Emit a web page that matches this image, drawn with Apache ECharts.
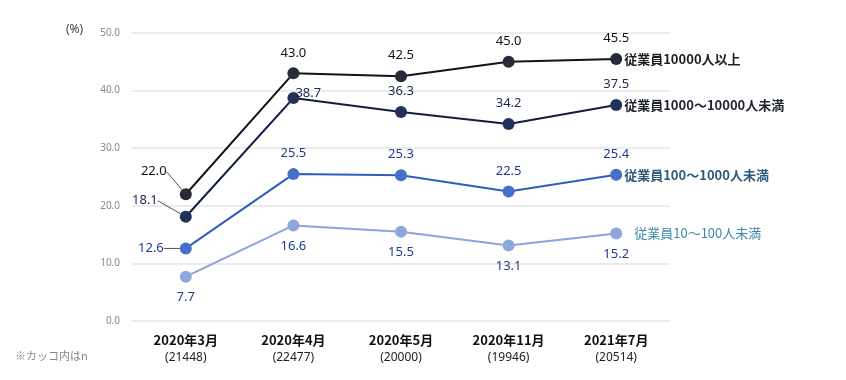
<!DOCTYPE html>
<html><head><meta charset="utf-8">
<script src="https://cdn.jsdelivr.net/npm/echarts@6/dist/echarts.min.js"></script>
<style>html,body{margin:0;padding:0;background:#fff}#c{width:846px;height:380px}</style>
</head><body><div id="c"></div>
<script>
const categories = ['2020年3月', '2020年4月', '2020年5月', '2020年11月', '2021年7月'];
const sampleSizes = ['21448', '22477', '20000', '19946', '20514'];
const seriesNames = ['従業員10000人以上', '従業員1000〜10000人未満', '従業員100〜1000人未満', '従業員10〜100人未満'];
const s10000 = [22.0, 43.0, 42.5, 45.0, 45.5];
const s1000 = [18.1, 38.7, 36.3, 34.2, 37.5];
const s100 = [12.6, 25.5, 25.3, 22.5, 25.4];
const s10 = [7.7, 16.6, 15.5, 13.1, 15.2];
const yMin = 0, yMax = 50, yStep = 10;

const FONT = '"Noto Sans", "Noto Sans CJK JP", sans-serif';
const CJK = '"Noto Sans CJK JP", "Noto Sans", sans-serif';

// per-point label placement (style only)
const labelCfg = [
  [ {position:'top', move:[-32,-2], line:true}, {position:'top'}, {position:'top'}, {position:'top'}, {position:'top'} ],
  [ {position:'left', move:[-14,-16], line:true}, {position:'right', distance:0, move:[-4,-5]}, {position:'top'}, {position:'top'}, {position:'top'} ],
  [ {position:'left', move:[-8,0], line:true}, {position:'top'}, {position:'top'}, {position:'top'}, {position:'top'} ],
  [ {position:'bottom'}, {position:'bottom'}, {position:'bottom'}, {position:'bottom'}, {position:'bottom'} ]
];
const lineColors = ['#121418', '#131c44', '#2f5ec0', '#8aa4dc'];
const markColors = ['#262b37', '#22305a', '#4470c8', '#8ea8de'];
const valColors = ['#111111', '#1a2552', '#1f3c8c', '#1f3c8c'];
const endColors = ['#1e1e1e', '#1e2230', '#2e5a7c', '#3f88aa'];
const endDist = [8, 8, 8, 18];
const endBold = ['bold', 'bold', 'bold', 'normal'];

function buildData(vals, si) {
  return vals.map((v, i) => {
    const c = labelCfg[si][i];
    const item = { value: v, label: { position: c.position, distance: c.distance != null ? c.distance : 8 } };
    if (c.line) item.labelLine = { show: true };
    return item;
  });
}

const all = [s10000, s1000, s100, s10];
const series = all.map((vals, si) => ({
  name: seriesNames[si],
  type: 'line',
  data: buildData(vals, si),
  symbol: 'circle',
  symbolSize: 12,
  lineStyle: { color: lineColors[si], width: 2 },
  itemStyle: { color: markColors[si] },
  label: {
    show: true,
    formatter: p => p.value.toFixed(1),
    color: valColors[si],
    fontSize: 13,
    fontFamily: FONT
  },
  labelLine: { show: false, lineStyle: { color: '#555', width: 1 } },
  labelLayout: p => {
    const c = labelCfg[si][p.dataIndex];
    return c && c.move ? { dx: c.move[0], dy: c.move[1] } : {};
  },
  endLabel: {
    show: true,
    formatter: p => p.seriesName,
    distance: endDist[si],
    color: endColors[si],
    fontSize: 13,
    fontWeight: endBold[si],
    fontFamily: CJK
  },
  z: 10 - si
}));

const chart = echarts.init(document.getElementById('c'));
chart.setOption({
  backgroundColor: '#fff',
  animation: false,
  grid: { left: 132, right: 176, top: 33, bottom: 59 },
  xAxis: {
    type: 'category',
    data: categories,
    axisLine: { show: false },
    axisTick: { show: false },
    axisLabel: {
      margin: 10,
      formatter: (v, i) => '{a|' + v + '}\n{b|(' + sampleSizes[i] + ')}',
      rich: {
        a: { fontSize: 13, fontWeight: 'bold', color: '#111', fontFamily: CJK, lineHeight: 18 },
        b: { fontSize: 12, color: '#222', fontFamily: FONT, lineHeight: 18 }
      }
    }
  },
  yAxis: {
    type: 'value',
    min: yMin, max: yMax, interval: yStep,
    axisLabel: { formatter: v => v.toFixed(1), color: '#888', fontSize: 10, fontFamily: FONT, margin: 12 },
    splitLine: { lineStyle: { color: '#e6e6e6', width: 1.5 } },
    axisLine: { show: false },
    axisTick: { show: false }
  },
  graphic: [
    { type: 'text', left: 66, top: 24, style: { text: '(%)', fill: '#444', font: '12px ' + FONT } },
    { type: 'text', left: 15, top: 350, style: { text: '※カッコ内はn', fill: '#888', font: '11px ' + CJK } }
  ],
  series: series
});
</script></body></html>
